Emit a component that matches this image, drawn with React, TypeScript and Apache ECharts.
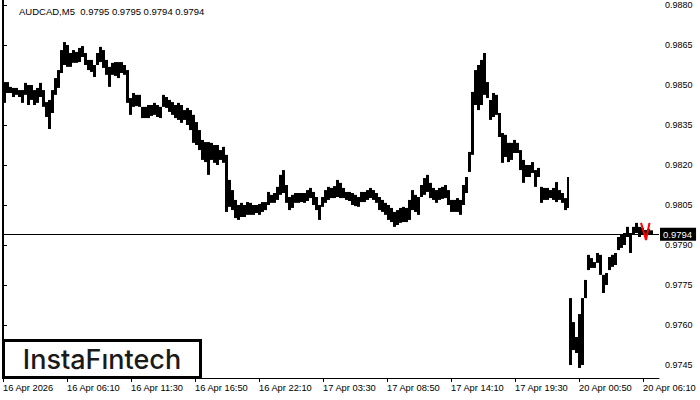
import React, { useEffect, useRef } from 'react';
import * as echarts from 'echarts';

const TITLE = 'AUDCAD,M5  0.9795 0.9795 0.9794 0.9794';
const LAST_PRICE = 0.9794;
const BARS_PER_COLUMN = 3; // each column = 15 min (3 x M5 bars)
const MONDAY_START = 566; // bar offset of 20 Apr 00:00
const X_MAX = 656;

const xTickIndex = [0, 64, 128, 192, 256, 320, 384, 448, 512, 576, 640];
const xTickLabels = [
  '16 Apr 2026', '16 Apr 06:10', '16 Apr 11:30', '16 Apr 16:50', '16 Apr 22:10',
  '17 Apr 03:30', '17 Apr 08:50', '17 Apr 14:10', '17 Apr 19:30', '20 Apr 00:50', '20 Apr 06:10',
];
const yTicks = [0.9745, 0.976, 0.9775, 0.979, 0.9805, 0.982, 0.9835, 0.985, 0.9865, 0.988];
const Y_MIN = 0.9740125;
const Y_MAX = 0.9881875;

// pips (x 10000)
const week1High = [
  9851.1, 9851.1, 9849.3, 9848.9, 9848.9, 9848.1, 9848.1, 9850.8, 9850.0, 9850.0,
  9848.1, 9848.9, 9850.8, 9848.1, 9843.6, 9844.4, 9848.1, 9852.6, 9855.6, 9863.1,
  9866.1, 9865.0, 9862.0, 9863.1, 9862.4, 9863.9, 9864.6, 9862.0, 9859.4, 9859.4,
  9857.5, 9862.0, 9864.3, 9863.1, 9859.4, 9856.8, 9858.3, 9858.6, 9858.6, 9858.6,
  9857.5, 9855.6, 9845.1, 9847.0, 9846.3, 9846.3, 9841.8, 9841.8, 9842.5, 9842.5,
  9843.3, 9842.5, 9841.8, 9846.3, 9845.5, 9844.4, 9843.6, 9842.5, 9843.3, 9842.5,
  9840.6, 9841.4, 9840.6, 9838.8, 9836.1, 9833.1, 9829.4, 9828.6, 9828.6, 9828.3,
  9827.5, 9827.5, 9825.6, 9826.8, 9823.8, 9814.4, 9810.6, 9806.9, 9805.0, 9805.8,
  9805.0, 9806.1, 9805.8, 9805.0, 9805.0, 9805.4, 9806.1, 9806.1, 9809.9, 9808.8,
  9809.5, 9811.8, 9816.3, 9818.1, 9812.5, 9808.0, 9808.8, 9809.5, 9809.5, 9809.5,
  9809.5, 9810.6, 9811.4, 9809.9, 9808.0, 9805.0, 9808.0, 9810.6, 9811.8, 9811.4,
  9812.1, 9814.4, 9813.3, 9811.4, 9809.9, 9809.9, 9809.5, 9808.8, 9808.0, 9809.9,
  9809.9, 9810.6, 9811.4, 9810.6, 9809.5, 9808.0, 9806.9, 9805.8, 9805.0, 9803.9,
  9802.4, 9803.1, 9803.9, 9804.3, 9803.9, 9806.9, 9810.6, 9808.8, 9808.0, 9812.5,
  9815.1, 9816.3, 9813.3, 9811.4, 9810.6, 9811.4, 9811.8, 9812.5, 9810.6, 9806.9,
  9806.9, 9807.6, 9806.9, 9812.5, 9815.5, 9824.9, 9847.4, 9855.6, 9857.5, 9859.4,
  9862.0, 9851.1, 9844.4, 9847.0, 9846.3, 9839.5, 9832.0, 9831.3, 9828.3, 9828.3,
  9829.4, 9828.3, 9825.6, 9821.9, 9820.0, 9820.0, 9821.1, 9818.1, 9818.9, 9811.8,
  9811.4, 9811.4, 9810.6, 9811.4, 9813.6, 9810.6, 9809.5, 9807.6, 9815.5,
];
const week1Low = [
  9843.3, 9847.0, 9847.0, 9845.5, 9846.3, 9845.5, 9843.3, 9846.3, 9842.5, 9844.4,
  9842.5, 9843.3, 9845.5, 9841.8, 9838.0, 9833.5, 9839.5, 9846.3, 9848.9, 9854.5,
  9857.5, 9856.8, 9856.8, 9858.3, 9858.3, 9858.6, 9860.5, 9857.5, 9855.6, 9854.9,
  9853.0, 9857.5, 9858.6, 9856.4, 9853.8, 9849.3, 9853.8, 9853.4, 9852.6, 9854.5,
  9853.8, 9843.3, 9838.8, 9841.8, 9842.1, 9841.8, 9837.6, 9837.6, 9837.6, 9838.4,
  9838.8, 9838.0, 9837.6, 9841.8, 9841.4, 9839.9, 9838.8, 9837.6, 9836.9, 9835.8,
  9836.9, 9835.0, 9833.1, 9828.3, 9827.5, 9825.6, 9821.9, 9821.1, 9816.3, 9821.9,
  9820.8, 9820.0, 9821.9, 9820.8, 9802.4, 9804.3, 9803.1, 9800.1, 9799.4, 9800.5,
  9800.5, 9801.3, 9801.3, 9801.3, 9802.0, 9801.3, 9802.4, 9803.1, 9805.0, 9805.8,
  9805.8, 9806.9, 9808.8, 9809.5, 9805.8, 9803.1, 9803.9, 9805.8, 9805.8, 9806.1,
  9805.8, 9806.5, 9807.6, 9805.0, 9803.1, 9799.4, 9804.3, 9805.8, 9806.9, 9807.6,
  9807.6, 9808.0, 9807.6, 9807.6, 9806.9, 9806.5, 9805.0, 9804.6, 9804.3, 9806.1,
  9806.1, 9806.9, 9807.6, 9806.9, 9805.8, 9803.1, 9802.4, 9801.3, 9799.4, 9798.6,
  9796.8, 9797.5, 9798.3, 9798.6, 9798.6, 9799.4, 9803.1, 9802.4, 9801.3, 9808.0,
  9808.8, 9809.9, 9807.6, 9806.9, 9805.8, 9806.9, 9807.3, 9807.6, 9805.0, 9802.4,
  9802.4, 9802.4, 9801.3, 9805.0, 9809.5, 9817.4, 9823.8, 9842.5, 9840.6, 9842.5,
  9846.3, 9845.1, 9836.9, 9838.0, 9838.8, 9830.5, 9820.8, 9823.0, 9821.1, 9821.9,
  9824.5, 9824.5, 9818.1, 9813.3, 9815.5, 9815.5, 9817.0, 9811.8, 9815.5, 9805.8,
  9806.9, 9806.9, 9807.6, 9806.9, 9806.1, 9806.9, 9805.8, 9803.1, 9803.9,
];
const mondayHigh = [
  9770.1, 9761.1, 9755.5, 9764.1, 9770.1, 9776.9, 9786.3, 9785.1, 9783.6, 9787.0,
  9786.3, 9778.8, 9779.5, 9785.5, 9786.3, 9787.0, 9793.0, 9793.8, 9794.5, 9796.8,
  9794.5, 9796.8, 9798.3, 9796.8, 9796.4, 9795.6, 9796.0, 9795.5,
];
const mondayLow = [
  9745.0, 9750.6, 9749.5, 9743.9, 9745.0, 9770.1, 9780.6, 9781.4, 9781.4, 9783.3,
  9778.8, 9772.0, 9775.0, 9780.6, 9781.8, 9782.5, 9788.1, 9788.9, 9790.0, 9793.0,
  9787.0, 9793.8, 9794.5, 9793.0, 9793.8, 9793.4, 9793.8, 9794.0,
];
// red "V" marker at the last bars
const redMarkX = [638, 643, 646.5];
const redMarkY = [0.97983, 0.97919, 0.97983];

const FONT = '"Liberation Sans", Arial, sans-serif';

export default function App() {
  const ref = useRef<HTMLDivElement>(null);
  useEffect(() => {
    if (!ref.current) return;
    const chart = echarts.init(ref.current, undefined, { renderer: 'svg' });
    const cols: number[][] = [];
    week1High.forEach((h, k) => {
      const start = k * BARS_PER_COLUMN;
      const n = Math.min(BARS_PER_COLUMN, MONDAY_START - start);
      cols.push([start, week1Low[k] / 10000, h / 10000, n]);
    });
    mondayHigh.forEach((h, j) => {
      cols.push([MONDAY_START + j * BARS_PER_COLUMN, mondayLow[j] / 10000, h / 10000, BARS_PER_COLUMN]);
    });
    chart.setOption({
      animation: false,
      backgroundColor: '#fff',
      grid: { left: 3, right: 41, top: 0, bottom: 22 },
      xAxis: {
        type: 'value',
        min: 0,
        max: X_MAX,
        axisLine: { show: true, lineStyle: { color: '#000', width: 1 } },
        axisTick: { show: true, customValues: xTickIndex, length: 4, lineStyle: { color: '#000' } },
        axisLabel: {
          customValues: xTickIndex,
          formatter: (v: number) => {
            const i = xTickIndex.indexOf(Math.round(v));
            return i >= 0 ? xTickLabels[i] : '';
          },
          align: 'left',
          margin: 5,
          fontSize: 9.3,
          fontFamily: FONT,
          color: '#000',
        },
        splitLine: { show: false },
      },
      yAxis: {
        type: 'value',
        position: 'right',
        min: Y_MIN,
        max: Y_MAX,
        axisLine: { show: true, lineStyle: { color: '#000', width: 1 } },
        axisTick: { show: true, customValues: yTicks, length: 4, lineStyle: { color: '#000' } },
        axisLabel: {
          customValues: yTicks,
          formatter: (v: number) => v.toFixed(4),
          margin: 6,
          fontSize: 9,
          fontFamily: FONT,
          color: '#000',
        },
        splitLine: { show: false },
      },
      series: [
        {
          type: 'custom',
          data: cols,
          encode: { x: 0, y: [1, 2] },
          clip: true,
          renderItem: (params: any, api: any) => {
            const s = api.value(0);
            const lo = api.value(1);
            const hi = api.value(2);
            const n = api.value(3);
            const p1 = api.coord([s, hi]);
            const p2 = api.coord([s + n, lo]);
            return {
              type: 'rect',
              shape: { x: p1[0], y: p1[1], width: p2[0] - p1[0], height: Math.max(1, p2[1] - p1[1]) },
              style: { fill: '#000' },
            };
          },
        },
        {
          type: 'line',
          data: redMarkX.map((x, i) => [x, redMarkY[i]]),
          symbol: 'none',
          lineStyle: { color: '#ff0000', width: 2 },
          z: 5,
          markLine: {
            silent: true,
            symbol: 'none',
            precision: 4,
            lineStyle: { color: '#000', width: 1, type: 'solid' },
            label: {
              show: true,
              position: 'end',
              distance: 1,
              formatter: LAST_PRICE.toFixed(4),
              backgroundColor: '#000',
              color: '#fff',
              fontSize: 9.5,
              fontFamily: FONT,
              padding: [2, 4, 1, 3],
            },
            data: [{ yAxis: LAST_PRICE }],
          },
        },
      ],
      graphic: [
        {
          type: 'line',
          z: 50,
          shape: { x1: 2.5, y1: 0, x2: 2.5, y2: 378 },
          style: { stroke: '#000', lineWidth: 1 },
        },
        {
          type: 'text',
          z: 50,
          left: 19,
          top: 6,
          style: { text: TITLE, font: `9.5px ${FONT}`, fill: '#000' },
        },
        {
          type: 'rect',
          z: 60,
          shape: { x: 3.5, y: 340.5, width: 197, height: 37 },
          style: { fill: '#fff', stroke: '#000', lineWidth: 3 },
        },
        {
          type: 'text',
          z: 61,
          x: 102,
          y: 359,
          style: {
            text: 'InstaFıntech',
            font: '500 27px Inter, "Open Sans", sans-serif',
            fill: '#1a1a1a',
            align: 'center',
            verticalAlign: 'middle',
          },
        },
      ],
    });
    return () => chart.dispose();
  }, []);
  return (
    <div
      ref={ref}
      style={{ position: 'absolute', left: 0, top: 0, width: 700, height: 400, background: '#fff' }}
    />
  );
}
